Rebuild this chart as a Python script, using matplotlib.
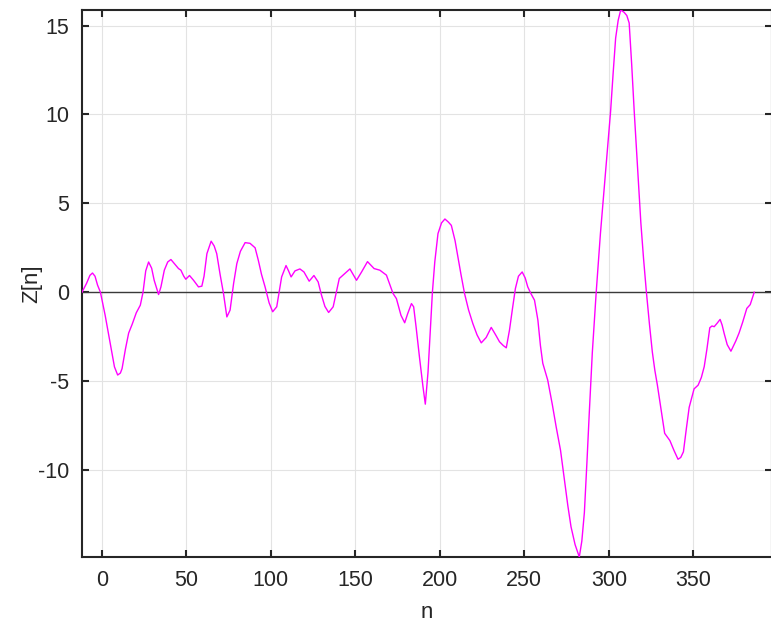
import matplotlib
matplotlib.use("Agg")
import matplotlib.pyplot as plt

n = [-11.7, -9, -7, -5.5, -4, -2.5, -0.8, 2, 5, 7.5, 9.4, 11, 12, 14, 15.9, 18, 20.4, 22.8,
     24.4, 26, 27.7, 29.5, 31, 33.6, 35, 37, 39, 40.9, 43, 45.4, 46.8, 48.5, 49.7, 51.9,
     54.3, 57.2, 59.2, 60.5, 62.2, 64.7, 66.5, 68, 70, 72, 74, 75.9, 78, 79.9, 82, 84.8,
     87.7, 90.7, 92.6, 94.5, 96.6, 99, 101.1, 103.5, 106.4, 109, 110.5, 112, 114.3, 117.2,
     119.6, 122.7, 125.5, 128, 130, 132, 134.2, 136.9, 140.5, 143.8, 146.8, 150.7, 153.7,
     157.2, 161.1, 164.5, 168.4, 172.3, 174.3, 177, 179.2, 181, 183.2, 184.5, 186, 188,
     190, 191.4, 193, 195.6, 197, 198.9, 201, 203, 205, 206.8, 209, 210.7, 212.5, 214.6,
     217, 219.5, 222, 224.5, 227.4, 230.4, 233, 235.3, 237.5, 239.3, 241.2, 243, 244.7,
     246.5, 248.7, 250.5, 252, 254, 256, 258, 259.5, 260.9, 263.8, 266.5, 268.8, 271.4,
     273.7, 275.7, 277.6, 280, 282.5, 284, 285.5, 287, 288.4, 290.2, 292.5, 295, 297, 299,
     301, 302.5, 304, 305.5, 307, 309, 310.6, 312, 313.5, 315, 317, 318.9, 320.5, 322.2,
     324, 325.7, 327.2, 328.7, 331, 333, 336.1, 338.5, 340.9, 342.5, 344.1, 345.8, 347.5,
     350.4, 352.8, 354.7, 356.4, 358, 359.7, 361, 362.3, 364, 365.8, 367, 368.2, 370,
     372.2, 375.1, 377, 379.1, 381.6, 383.6, 385, 386]
z = [0.0, 0.5, 0.95, 1.08, 0.9, 0.4, 0.0, -1.3, -2.9, -4.2, -4.66, -4.55, -4.3, -3.2, -2.3,
     -1.8, -1.16, -0.73, 0.0, 1.2, 1.70, 1.35, 0.67, -0.13, 0.3, 1.24, 1.7, 1.84, 1.6, 1.33,
     1.24, 0.9, 0.73, 0.94, 0.67, 0.30, 0.34, 0.9, 2.17, 2.87, 2.6, 2.17, 1.0, -0.07, -1.39,
     -1.01, 0.5, 1.61, 2.3, 2.79, 2.75, 2.5, 1.80, 1.0, 0.30, -0.6, -1.1, -0.82, 0.86, 1.50,
     1.2, 0.86, 1.20, 1.31, 1.14, 0.62, 0.94, 0.58, -0.17, -0.8, -1.14, -0.82, 0.77, 1.05,
     1.31, 0.67, 1.14, 1.72, 1.33, 1.24, 0.96, -0.07, -0.36, -1.3, -1.72, -1.2, -0.64, -0.82,
     -2.0, -3.7, -5.3, -6.3, -4.5, 0.0, 1.7, 3.3, 3.9, 4.12, 3.95, 3.76, 2.9, 1.98, 1.0,
     -0.07, -1.0, -1.76, -2.4, -2.85, -2.55, -1.98, -2.4, -2.79, -3.0, -3.13, -2.13, -0.9,
     0.21, 0.9, 1.14, 0.8, 0.30, -0.1, -0.45, -1.57, -3.0, -4.0, -4.94, -6.3, -7.57, -8.9,
     -10.56, -12.0, -13.2, -14.2, -14.9, -14.0, -12.4, -9.6, -6.8, -3.4, 0.0, 3.3, 5.58, 7.9,
     10.16, 12.3, 14.3, 15.3, 15.88, 15.75, 15.57, 15.15, 12.8, 10.16, 7.0, 3.92, 1.9, 0.0,
     -1.8, -3.36, -4.4, -5.23, -6.7, -7.94, -8.35, -8.9, -9.40, -9.3, -8.98, -7.7, -6.48,
     -5.44, -5.23, -4.8, -4.19, -3.2, -2.0, -1.9, -1.94, -1.75, -1.53, -1.85, -2.32, -2.95,
     -3.32, -2.74, -2.3, -1.70, -0.91, -0.70, -0.3, 0.0]

xticks = [0, 50, 100, 150, 200, 250, 300, 350]
yticks = [-10, -5, 0, 5, 10, 15]
xlabel = "n"
ylabel = "Z[n]"

plt.rcParams['font.family'] = ['Liberation Sans', 'DejaVu Sans']
plt.rcParams['axes.unicode_minus'] = False
tc = '#262626'

fig = plt.figure(figsize=(7.71, 6.24), dpi=100)
ax = fig.add_axes([82 / 771, (624 - 557) / 624, (772 - 82) / 771, (557 - 10) / 624])

ax.axhline(0, color='#3a3a3a', lw=1.0, zorder=2)
ax.plot(n, z, color='#ff00ff', lw=1.0, zorder=3)

ax.set_xlim(-11.7, 396.5)
ax.set_ylim(-14.9, 15.88)
ax.set_xticks(xticks)
ax.set_yticks(yticks)
ax.grid(True, color='#e3e3e3', lw=0.8)
ax.set_axisbelow(True)
ax.tick_params(direction='in', length=5, width=1.5, colors=tc, labelsize=15.5,
               top=True, right=True, pad=9)
for s in ax.spines.values():
    s.set_color(tc)
    s.set_linewidth(1.5)
ax.set_xlabel(xlabel, fontsize=16, color=tc, labelpad=8)
ax.set_ylabel(ylabel, fontsize=16, color=tc)
ax.yaxis.set_label_coords(-0.058, 0.5)

fig.savefig('out.png', dpi=100)
